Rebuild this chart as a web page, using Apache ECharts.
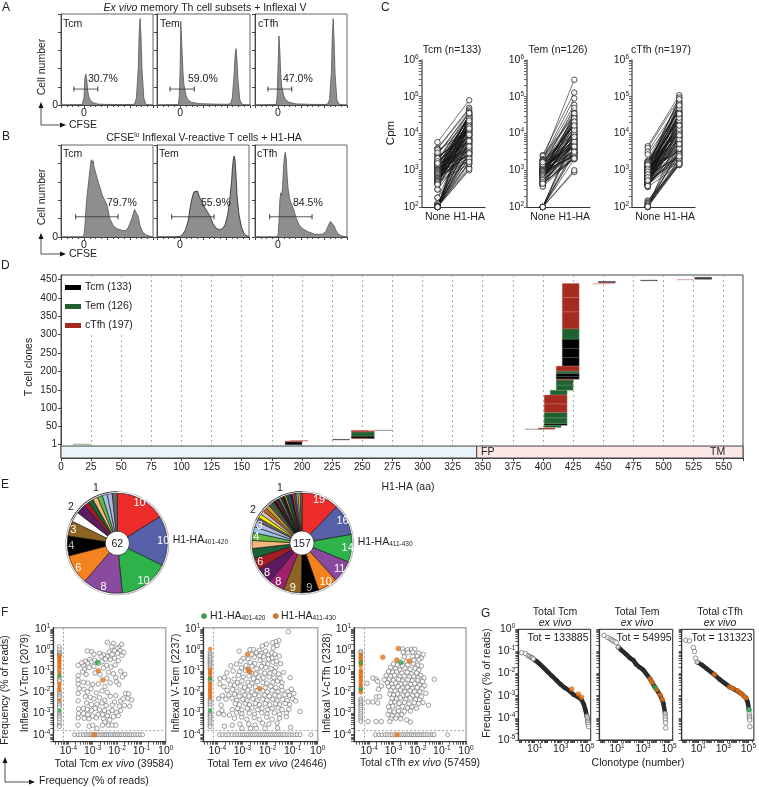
<!DOCTYPE html>
<html><head><meta charset="utf-8"><style>html,body{margin:0;padding:0;background:#fff}#c{width:759px;height:787px}</style>
<script src="https://cdn.jsdelivr.net/npm/echarts@6/dist/echarts.min.js"></script></head><body><div id="c"></div>
<script>
// ---------- Panel A / B histograms: [CFSE, % of max]
const aTcm=[[-25,0],[-2,.5],[0,8],[1,30],[2,34],[3,28],[4,16],[5,10],[7,5],[10,2.5],[15,1],[25,.6],[40,.5],[52,.5],[55,1],[57,8],[59,40],[60,80],[61,95],[62,75],[63,40],[65,8],[67,1],[70,.2],[75,0]];
const aTem=[[-25,0],[-2,.5],[-1,10],[0,45],[0.6,92],[1.5,70],[3,35],[4,22],[6,11],[8,6],[12,3],[20,1.5],[35,1],[50,.8],[54,1.5],[56,8],[58,35],[59,55],[60,62],[61,50],[62,28],[64,6],[66,1],[70,.2],[75,0]];
const aCfh=[[-25,0],[-2,.5],[-1,8],[0,40],[1,76],[2,60],[3,32],[4,21],[6,11],[8,6],[12,3],[20,1.2],[35,.7],[50,.5],[54,1],[56,6],[58,35],[59,75],[60,95],[61,70],[62,35],[64,6],[66,1],[70,.2],[75,0]];
const bTcm=[[-25,0],[-3,0],[0,2],[1,12],[2,28],[3,42],[5,60],[7,78],[8,84],[9,80],[10,83],[11,76],[12,78],[14,65],[17,55],[20,45],[25,35],[28,20],[32,12],[36,9],[42,7],[45,7],[48,10],[52,20],[55,30],[57,30],[59,22],[61,12],[64,5],[68,2],[75,0]];
const bTem=[[-25,0],[-5,0],[0,.5],[3,3],[6,8],[9,18],[11,32],[13,42],[15,49],[17,51],[19,50],[21,44],[24,38],[27,32],[30,27],[33,22],[36,14],[40,9],[43,8],[46,9],[49,13],[52,25],[54,40],[56,60],[57,75],[58,85],[59,88],[60,82],[61,65],[62,45],[64,25],[67,10],[70,3],[75,0]];
const bCfh=[[-25,0],[-3,0],[0,1],[1,15],[2,40],[3,48],[4,45],[5,55],[6,75],[7,88],[8,92],[9,85],[10,65],[11,52],[13,40],[15,35],[17,30],[20,20],[23,13],[27,9],[32,6],[40,3],[48,3],[52,6],[55,13],[57,17],[59,16],[61,12],[64,5],[68,1.5],[75,0]];
const histGates=[[-11,15,17.5],[-11,15,17.5],[-11,15,17.5],[-9,37,22],[-9,37,22],[-9,37,22]];
// ---------- Panel C cpm pairs
const cCats=['None','H1-HA'];
const noneTcm=[5800,4000,3800,3500,2800,2600,2400,2000,1900,1800,1700,1500,1500,1400,1300,1200,1200,1100,1000,1000,950,900,900,850,800,800,750,700,700,650,620,600,550,520,480,450,440,420,300,300,180,180,120,120,115,110,110,105,105,100,100,100,100,100,100,1600,1300,1150,1050,870,760,680,560,500,460,3000,2200,1250,1450,1350,1080,1020,980,930,880,830,780,730,670,640,610,580,540,510,490,470,430,410,125,112,108,102,101,100,100,2100,1750,1550];
const haTcm=[80000,50000,45000,12000,35000,40000,8000,30000,6000,25000,38000,20000,3500,15000,28000,9000,2500,18000,30000,5000,12000,22000,2000,7000,16000,33000,4500,10000,1800,25000,6000,14000,3000,20000,8000,1500,27000,11000,4000,17000,2500,9000,1600,3000,5500,1200,13000,2200,7000,1000,1100,3500,19000,1500,24000,13000,6500,21000,3800,9500,2800,17000,5200,12500,3200,23000,10500,31000,26000,4200,16500,7500,29000,11500,3400,19500,5800,8800,34000,2700,14500,6800,22500,3900,10200,1900,15500,4800,2100,6200,9200,1700,2900,4400,36000,13500];
const noneTem=[2600,2400,2000,2000,1900,1800,1800,1600,1500,1400,1300,1300,1200,1100,1100,1000,1000,950,900,900,850,800,800,750,700,700,650,600,600,550,500,480,450,420,400,380,370,360,100,100,100,100,100,100,100,1700,1250,1050,920,780,640,520,1500,1150,860,720,580,440,1350,1220,1080,1020,970,930,880,820,770,730,680,630,570,530,470,430,100,100,1450,1650];
const haTem=[130000,30000,290000,90000,60000,10000,40000,35000,25000,8000,50000,14000,5000,20000,7000,30000,3500,12000,28000,4500,9000,18000,2500,6000,15000,35000,3000,24000,8000,2100,11000,4000,2000,13000,5500,7500,3000,2200,900,1000,2000,2800,3800,6500,10000,16000,4200,22000,2400,5000,9500,3300,17000,6200,26000,3600,11500,2300,19000,5300,8700,3100,14500,6800,2600,10500,4700,21000,3400,7200,12500,2900,5900,2100,3200,8100,16500,4400];
const noneCfh=[4500,4000,3200,2700,1800,1700,1600,1500,1500,1400,1300,1200,1200,1100,1050,1000,1000,950,900,880,850,800,800,750,720,700,680,650,620,600,580,550,520,500,480,460,440,420,400,380,360,350,150,140,130,120,110,105,100,100,100,1750,1350,1150,970,830,690,560,470,1250,870,610,430,1650,1550,1450,1280,1180,1120,1020,930,860,780,740,660,630,590,540,510,490,450,410,390,370,125,115,108,102,1380,1070,910,770,640,530];
const haCfh=[110000,90000,60000,40000,75000,30000,50000,22000,12000,35000,95000,26000,8000,16000,45000,10000,5500,28000,70000,3500,20000,14000,7000,55000,9000,2500,32000,4500,18000,65000,12000,3000,25000,6000,2000,38000,11000,1700,4000,15000,8500,1400,1500,2600,1400,5000,3300,1600,1400,2000,9500,42000,24000,6500,13000,3800,19000,7800,2300,85000,17000,5000,2900,21000,48000,10500,3100,29000,7200,15500,4300,36000,2200,11500,5800,23000,3600,8000,1800,13500,6800,27000,2700,4800,1700,2100,1500,3900,58000,9000,34000,5200,16500,2400];
// ---------- Panel D epitope mapping: [first aa, last aa, clone from, clone to]
const segTcm=[[186,200,1,9],[225.5,239.6,14,15.5],[241,260,18,24.5],[401,420,54,59],[411,430,179,187],[411,430,187,195],[416,430,214.5,238],[416,430,238,263],[416,430,263,288],[446,460,441,444.5],[481,495,446.5,448],[526,540,450.5,453],[526,540,453,455.5]];
const segTem=[[241,260,24.5,36],[401,415,48,54],[401,420,59,74],[401,420,74,89],[406,420,136,149],[411,425,149,163],[411,425,163,177],[411,430,195,201],[416,430,288,317]];
const segCfh=[[186,200,9,11],[190,205,11,12],[241,255,39,40],[241,260,36,39],[241,255,17.5,18.5],[396,410,43,46.5],[401,420,89,112],[401,420,112,136],[411,425,177,179],[411,430,201,214.5],[416,430,316,362],[416,430,362,401],[416,430,401,439],[446,460,440,441]];
const segFaint=[[10,25,3,3.6,'#7fb08f'],[260,275,40.6,41.4,'#999999'],[385,400,43.6,44.4,'#999999'],[441,455,438.6,439.6,'#d9a09a'],[511,525,449.6,450.6,'#d9a09a']];
const domains=[[0,345,'#e8f4fa'],[345,566,'#fce8e6']];
// ---------- Panel E clonotype pies
const pie1Vals=[10,10,10,8,6,4,3,2,2,1,1,1,1,1,1,1];
const pie1Cols=['#ee2c2c','#5560a8','#2eb34a','#8a4a9e','#f58220','#000000','#8f6423','#ffffff','#5e1a60','#a71c24','#1a6237','#f4b97a','#63b944','#9cc4e8','#b3b7e0','#666666'];
const pie2Vals=[19,16,14,11,10,9,9,8,8,6,5,4,4,3,3,2,2,2,2,2,2,1,1,1,1,1,1,1,1,1,1,1,1,1,1,1,1];
const pie2Cols=['#ee2c2c','#5560a8','#2eb34a','#8a4a9e','#f58220','#000000','#8f6423','#a0206e','#5e1a60','#a71c24','#1a6237','#f4b97a','#63b944','#9cc4e8','#b3b7e0','#6a6a6a','#fff200','#c9c9c9','#c8602a','#b5a82a','#555555','#2a7a3a','#111111','#a71c24','#222255','#63b944','#5e1a60','#111111','#b5a82a','#1a6237','#5560a8','#222222','#c8602a','#8a4a9e','#9cc4e8','#fff200','#777777'];
// ---------- Panel F: log10(frequency)
const cloudTcm=[[-2.4,.37],[-2.15,.32],[-1.81,.27],[-2.22,.16],[-1.93,.14],[-2,.08],[-2.1,-.03],[-2.32,-.08],[-1.87,-.02],[-1.98,-.15],[-2.2,-.2],[-1.8,-.25],[-1.72,-.1],[-3.22,-.04],[-3.04,-.07],[-2.95,-.2],[-2.72,-.15],[-2.55,-.22],[-2.65,-.3],[-2.4,-.3],[-2.48,-.42],[-2.28,-.45],[-2.1,-.38],[-1.95,-.5],[-2.62,-.55],[-2.75,-.62],[-3.12,-.44],[-3.3,-.52],[-3.2,-.62],[-3.38,-.72],[-3.05,-.55],[-2.92,-.48],[-3.45,-.6],[-3.6,-.72],[-3.33,-.9],[-3.15,-.82],[-2.95,-.77],[-2.55,-.85],[-2.43,-.72],[-2.25,-.8],[-2.08,-.7],[-2.35,-1.05],[-2.15,-1.12],[-1.85,-1],[-1.68,-1.15],[-1.78,-1.27],[-2.05,-1.3],[-2.42,-1.33],[-2.7,-1.15],[-2.9,-1.08],[-3.27,-1.15],[-3.42,-1.03],[-3.6,-1.2],[-3.6,-1.41],[-3.6,-1.6],[-3.55,-1.82],[-3.6,-2.05],[-3.38,-1.52],[-3.2,-1.56],[-3,-1.62],[-2.77,-1.6],[-2.5,-1.72],[-2.28,-1.55],[-2.02,-1.5],[-1.92,-1.62],[-3.36,-1.85],[-3.22,-1.97],[-3.07,-1.83],[-2.85,-2.02],[-2.62,-1.93],[-2.4,-2],[-3.3,-2.2],[-3.1,-2.23],[-2.95,-2.3],[-2.72,-2.25],[-2.5,-2.37],[-2.28,-2.18],[-2.05,-2.15],[-1.85,-2.4],[-1.65,-2.05],[-1.53,-2.07],[-1.75,-2.3],[-1.55,-2.28],[-1.4,-2.35],[-1.48,-2.65],[-1.7,-2.62],[-1.9,-2.65],[-2.1,-2.45],[-2.2,-2.6],[-2.45,-2.62],[-2.62,-2.5],[-2.82,-2.55],[-3.05,-2.57],[-3.25,-2.5],[-3.6,-2.4],[-3.58,-2.78],[-3.38,-2.75],[-3.22,-2.8],[-3.05,-2.85],[-2.9,-2.75],[-2.72,-2.82],[-2.52,-2.85],[-2.35,-2.95],[-2.2,-2.85],[-2.02,-2.95],[-1.85,-2.85],[-1.95,-3.1],[-2.15,-3.15],[-2.4,-3.1],[-2.6,-3.05],[-2.78,-3.05],[-3,-3.12],[-3.2,-3.05],[-3.38,-3],[-3.58,-3],[-3.6,-3.2],[-3.35,-3.22],[-3.15,-3.25],[-2.85,-3.2],[-2.55,-3.25],[-2.3,-3.3],[-2.5,-3.4],[-3.6,-3.55],[-3.15,-3.6],[-3,-3.55],[-2.82,-3.7],[-2.6,-3.55],[-2.35,-3.55],[-2.2,-3.55],[-2.05,-3.55]];
const cloudTem=[[-1.17,.87],[-1.55,.45],[-1.68,.4],[-1.8,.35],[-1.62,.22],[-1.77,.1],[-2.05,.28],[-2.21,.2],[-2.57,.03],[-2.7,.02],[-3.13,-.05],[-2.44,-.12],[-2.33,-.01],[-2.26,-.15],[-2.08,-.05],[-1.97,-.23],[-1.83,-.13],[-1.71,-.2],[-1.53,-.28],[-1.82,-.38],[-1.96,-.43],[-2.17,-.31],[-2.31,-.26],[-2.53,-.33],[-2.63,-.21],[-2.78,-.42],[-2.97,-.39],[-3.06,-.52],[-2.69,-.58],[-2.51,-.63],[-2.3,-.49],[-2.13,-.62],[-1.99,-.66],[-1.78,-.57],[-1.64,-.52],[-1.48,-.64],[-1.67,-.81],[-1.86,-.88],[-2.07,-.82],[-2.24,-.77],[-2.43,-.87],[-2.62,-.76],[-2.86,-.73],[-3.04,-.83],[-3.24,-.66],[-3.46,-.74],[-3.12,-1.02],[-2.88,-.97],[-2.64,-1.07],[-2.47,-1.12],[-2.26,-1.03],[-2.11,-1.09],[-1.91,-1.11],[-1.71,-1.03],[-1.56,-1.13],[-1.36,-1.06],[-1.1,-1.3],[-1.51,-1.33],[-1.74,-1.3],[-1.94,-1.27],[-2.17,-1.31],[-2.36,-1.28],[-2.56,-1.34],[-2.74,-1.22],[-2.97,-1.27],[-3.16,-1.19],[-3.37,-.99],[-3.62,-1.07],[-3.72,-1.3],[-3.9,-1.35],[-3.56,-1.41],[-3.33,-1.37],[-3.21,-1.53],[-3.02,-1.46],[-2.78,-1.52],[-2.62,-1.57],[-2.41,-1.49],[-2.18,-1.53],[-2.03,-1.57],[-1.79,-1.52],[-1.61,-1.47],[-1.42,-1.54],[-1.44,-1.73],[-1.67,-1.77],[-1.87,-1.71],[-2.09,-1.78],[-2.48,-1.74],[-2.72,-1.69],[-2.91,-1.76],[-3.08,-1.71],[-3.32,-1.66],[-3.48,-1.63],[-3.74,-1.73],[-3.9,-1.6],[-3.61,-1.9],[-3.39,-1.87],[-3.22,-1.94],[-2.99,-1.97],[-2.78,-1.89],[-2.62,-1.98],[-2.41,-1.91],[-2.18,-1.93],[-2.02,-1.98],[-1.81,-1.92],[-1.58,-1.97],[-1.42,-1.9],[-1.19,-1.96],[-1.05,-1.85],[-.95,-2.05],[-1.13,-2.14],[-1.31,-2.11],[-1.54,-2.17],[-1.71,-2.13],[-1.93,-2.18],[-2.11,-2.12],[-2.34,-2.16],[-2.52,-2.11],[-2.74,-2.17],[-2.91,-2.12],[-3.13,-2.18],[-3.31,-2.08],[-3.54,-2.12],[-3.8,-2.15],[-3.66,-2.32],[-3.41,-2.28],[-3.22,-2.37],[-2.98,-2.33],[-2.81,-2.39],[-2.58,-2.31],[-2.42,-2.4],[-2.19,-2.32],[-2.02,-2.37],[-1.79,-2.32],[-1.62,-2.39],[-1.39,-2.33],[-1.22,-2.38],[-1,-2.3],[-.88,-2.4],[-1.12,-2.57],[-1.29,-2.52],[-1.52,-2.58],[-1.68,-2.53],[-1.91,-2.59],[-2.09,-2.53],[-2.32,-2.58],[-2.49,-2.52],[-2.72,-2.59],[-2.89,-2.52],[-3.12,-2.58],[-3.29,-2.53],[-3.85,-2.6],[-3.95,-2.3],[-3.82,-2.85],[-3.95,-3],[-3.41,-2.81],[-3.19,-2.76],[-3.02,-2.82],[-2.79,-2.76],[-2.62,-2.73],[-2.39,-2.81],[-2.22,-2.75],[-1.99,-2.81],[-1.82,-2.75],[-1.58,-2.73],[-1.42,-2.81],[-1.15,-2.8],[-.71,-2.9],[-1.25,-2.98],[-1.52,-3.03],[-1.73,-2.97],[-2.02,-3.02],[-2.23,-2.97],[-2.52,-3.03],[-2.73,-2.98],[-3.02,-3.02],[-3.23,-2.97],[-3.52,-3.07],[-3.75,-3.05],[-3.32,-3.22],[-3.03,-3.17],[-2.82,-3.27],[-2.53,-3.19],[-2.32,-3.28],[-2.03,-3.17],[-1.82,-3.27],[-1.53,-3.22],[-1.25,-3.15],[-1.62,-3.45],[-1.95,-3.5],[-2.2,-3.45],[-2.5,-3.55],[-2.75,-3.5],[-3.1,-3.5],[-3.4,-3.55],[-3.72,-3.6],[-1.08,-3.65],[-1.6,-3.68],[-2.1,-3.7],[-2.45,-3.7],[-2.68,-3.7],[-3.02,-3.7]];
const cloudCfh=[[-2.62,.06],[-2.42,.02],[-2.25,.05],[-2.12,.04],[-2.6,-.1],[-2.4,-.12],[-2.2,-.1],[-1.95,-.15],[-1.77,-.2],[-2.02,-.28],[-2.2,-.3],[-2.55,-.32],[-1.85,-.38],[-1.95,-.45],[-2.15,-.48],[-2.45,-.55],[-2.85,-.7],[-3,-.65],[-2.63,-.73],[-2.41,-.69],[-2.18,-.65],[-1.98,-.71],[-1.85,-.75],[-3.12,-.82],[-2.9,-.88],[-2.74,-.93],[-2.52,-.85],[-2.31,-.91],[-2.1,-.86],[-1.95,-.95],[-3.2,-1],[-3.03,-1.05],[-2.87,-1.03],[-2.65,-1.09],[-2.43,-1.05],[-2.26,-1.12],[-2.04,-1.08],[-1.88,-1.2],[-3.3,-1.2],[-3.12,-1.24],[-2.95,-1.19],[-2.73,-1.25],[-2.56,-1.22],[-2.34,-1.27],[-2.16,-1.24],[-1.98,-1.3],[-1.74,-1.32],[-1.31,-1.38],[-3.72,-1.38],[-3.85,-1.32],[-3.65,-1.48],[-3.38,-1.4],[-3.17,-1.37],[-3.01,-1.43],[-2.79,-1.38],[-2.62,-1.45],[-2.39,-1.4],[-2.22,-1.44],[-1.99,-1.42],[-1.8,-1.48],[-4.09,-1.57],[-3.25,-1.55],[-3.07,-1.6],[-2.91,-1.56],[-2.69,-1.61],[-2.52,-1.57],[-2.29,-1.62],[-2.12,-1.58],[-1.92,-1.65],[-1.72,-1.68],[-3.5,-1.7],[-3.2,-1.72],[-3.02,-1.77],[-2.81,-1.72],[-2.63,-1.78],[-2.41,-1.75],[-2.23,-1.81],[-2.01,-1.77],[-1.82,-1.82],[-3.62,-1.85],[-3.1,-1.9],[-2.93,-1.94],[-2.71,-1.89],[-2.53,-1.96],[-2.31,-1.92],[-2.13,-1.97],[-1.91,-1.96],[-1.66,-2.04],[-3.7,-2.22],[-3.58,-2.2],[-3.15,-2.08],[-2.99,-2.12],[-2.83,-2.07],[-2.61,-2.14],[-2.43,-2.09],[-2.21,-2.15],[-2.03,-2.12],[-1.85,-2.2],[-3.05,-2.28],[-2.87,-2.31],[-2.71,-2.26],[-2.49,-2.32],[-2.31,-2.27],[-2.09,-2.34],[-1.92,-2.35],[-1.78,-2.48],[-4.05,-2.45],[-3.85,-2.45],[-3.65,-2.5],[-3.1,-2.48],[-2.94,-2.45],[-2.76,-2.51],[-2.54,-2.47],[-2.36,-2.53],[-2.14,-2.48],[-1.95,-2.52],[-1.55,-2.6],[-3.2,-2.68],[-3.03,-2.65],[-2.81,-2.72],[-2.63,-2.67],[-2.41,-2.73],[-2.23,-2.69],[-2.05,-2.75],[-3.15,-2.88],[-2.97,-2.92],[-2.79,-2.87],[-2.55,-2.9],[-2.3,-2.88],[-3.22,-3.05],[-3.05,-3.1],[-2.85,-3.08],[-2.65,-3.05],[-3.1,-3.25],[-2.9,-3.22],[-4.05,-3.38],[-3.72,-3.38],[-3.5,-3.38],[-3.15,-3.38],[-2.7,-3.25],[-2.45,-3.3],[-2.3,-3.4]];
const colTcm=[.16,.02,-.1,-.17,-.24,-.92,-1.3,-1.4,-1.48,-2,-2.1,-2.18,-2.26,-2.46,-2.55,-2.62,-2.72,-2.95,-3.05,-3.12,-3.2,-3.3,-3.42,-3.55,-3.62];
const colTem=[-.12,-.2,-.27,-.34,-.42,-.5,-.57,-.64,-.7,-.78,-.85,-1.4,-1.48,-2.35,-2.42,-2.5,-2.6,-2.7,-2.95,-3.03,-3.1,-3.18,-3.27,-3.36,-3.45,-3.55,-3.63];
const colCfh=[-.05,-.12,-1.78,-2.3,-2.38,-2.46,-2.55,-2.62,-2.7,-2.8,-2.9,-3,-3.1,-3.2,-3.3,-3.38];
const colOrTcm=[-.25,-.32,-.4,-.48,-.56,-.65,-.74,-.83,-1.02,-1.13,-1.58,-1.68,-1.8,-1.9,-2.36];
const colOrTem=[.05,-.9,-1,-1.08,-1.16,-1.3,-1.55,-1.65,-1.75,-1.85,-1.95,-2.05,-2.15,-2.25];
const colOrCfh=[-.2,-.28,-.35,-.43,-.5,-.58,-.66,-.75,-.95,-1.03,-1.12,-1.2,-1.3,-1.4,-1.5,-1.6,-1.7,-1.9,-2];
const colGrTcm=[-1.22,-2.86];
const colGrTem=[-1.35,-2.86];
const colGrCfh=[-.6,-1.85];
const rowTcm=[-3.75,-3.6,-3.5,-3.38,-3.28,-3.2,-3.12,-3.05,-2.98,-2.85,-2.78,-2.7,-2.62,-2.55,-2.48,-2.42,-2.35,-2.28,-2.2,-2.12,-2.05,-1.98,-1.9,-1.82,-1.74,-1.66,-1.58,-1.5,-1.42,-1.33,-1.24,-1.15,-1.05,-.95];
const rowTem=[-3.92,-3.8,-3.66,-3.55,-3.42,-3.3,-3.2,-3.1,-3,-2.92,-2.84,-2.76,-2.68,-2.6,-2.52,-2.44,-2.36,-2.28,-2.2,-2.12,-2.04,-1.96,-1.88,-1.8,-1.72,-1.64,-1.56,-1.48,-1.4,-1.32,-1.22,-1.12,-1.02,-.92,-.82,-.7,-.27];
const rowCfh=[-3.75,-3.6,-3.48,-3.35,-3.25,-3.15,-3.05,-2.95,-2.76,-2.66,-2.58,-2.5,-2.42,-2.34,-2.26,-2.18,-2.1,-2.02,-1.94,-1.86,-1.78,-1.7,-1.6,-1.5,-1.4,-1.32,-.76];
const orTcm=[[-2.77,-.97],[-2.59,-1.41],[-2.93,-4]];
const orTem=[[-2.8,-.2],[-2.78,-.91],[-2.71,-1.02],[-2.31,-1.81]];
const orCfh=[[-2.8,.08],[-3.44,-.34],[-2.86,-.47],[-2.34,-.51],[-2.86,-4]];
const grTcm=[[-2.81,-.58]];
const grTem=[];
const grCfh=[[-2.69,-.58]];
const fBelowLimit=[-4.37,-4.29,-4.35];
const fGateX=[-4.2,-4.16,-4.2];
const fGateY=-3.81;
const fRowY=-4;
// ---------- Panel G rank-frequency
const gBulkTcm=[[10,.04],[15,.035],[20,.03],[30,.024],[50,.018],[100,.012],[200,.008],[500,.0048],[1000,.0032],[2000,.0023],[5000,.0016],[10000,.0011],[20000,.0009],[40000,.00065],[60000,.0004],[80000,.00022],[100000,.00012]];
const gOpenTcm=[[1,.087],[2,.08],[3,.065],[4,.06],[5,.055],[6,.052],[7,.05],[8,.045],[100000,.00012],[110000,.0001],[115000,.00008],[120000,.00007],[125000,.00006],[130000,.00005],[133885,.00004]];
const gBulkTem=[[12,.16],[20,.12],[50,.075],[100,.05],[180,.04],[300,.026],[500,.02],[1000,.015],[3500,.0057],[8300,.0024],[20000,.0011],[36000,.00047],[50000,.00016]];
const gOpenTem=[[1,.53],[2,.42],[3,.37],[4,.33],[5,.3],[7,.28],[9,.25],[12,.16],[50000,.00016],[51000,.00012],[52000,.0001],[53000,.00008],[54000,.00006],[54995,.000035]];
const gBulkCfh=[[8,.033],[21,.024],[50,.016],[190,.009],[500,.0055],[3200,.0025],[6000,.0021],[25000,.0013],[63000,.0008],[90000,.0005],[112000,.00023]];
const gOpenCfh=[[1,.32],[2,.3],[4,.15],[5,.1],[6,.05],[8,.033],[112000,.00023],[116000,.00016],[120000,.00012],[124000,.0001],[128000,.00008],[131323,.00004]];
const gOrTcm=[[7000,.002],[23000,.0012],[40000,.00085]];
const gOrTem=[[3500,.0057],[5000,.004],[11000,.0019],[20000,.0011],[30000,.0007]];
const gOrCfh=[[190,.009],[3200,.0025],[6000,.0021],[14000,.0017],[25000,.0013],[40000,.001],[63000,.0008]];
const gGrTem=[[8300,.0024]];
const gGrCfh=[[112000,.00023]];
const logMinorDigits=[1,2,3,4,5,6,7,8,9];
const logDecades=[-5,-4,-3,-2,-1,0,1,2,3,4,5,6];

// ---------- build
const FONT='"Liberation Sans",Arial,sans-serif';
const grid=[],xAxis=[],yAxis=[],series=[],graphic=[];
const DARK='#333';
function G(l,t,r,b,gridOpt,xa,ya){const i=grid.length;
 grid.push(Object.assign({left:l,top:t,width:r-l,height:b-t,show:false},gridOpt||{}));
 xAxis.push(Object.assign({gridIndex:i,splitLine:{show:false}},xa));
 yAxis.push(Object.assign({gridIndex:i,splitLine:{show:false}},ya));return i;}
const rich={b:{fontSize:10.5,color:'#222',fontFamily:FONT},s:{fontSize:6.5,color:'#222',fontFamily:FONT,padding:[0,0,6,0]}};
function powLabel(v,odd){const l=Math.log10(v),e=Math.round(l);if(Math.abs(l-e)>1e-6)return '';if(odd&&(e%2===0))return '';return `{b|10}{s|${e}}`;}
const minorVals=[];logDecades.forEach(e=>logMinorDigits.forEach(d=>minorVals.push(d*10**e)));
function logAxis(min,max,opts){return Object.assign({type:'log',logBase:10,min,max,splitNumber:10,
 axisLine:{show:true,onZero:false,lineStyle:{color:DARK,width:1.2}},axisTick:{show:true,length:3,customValues:minorVals.filter(v=>v>=min&&v<=max),lineStyle:{color:DARK,width:.8}},
 axisLabel:{show:true,margin:3,hideOverlap:false,showMinLabel:true,showMaxLabel:true,formatter:v=>powLabel(v),rich}},opts||{});}

// A / B
const hists=[aTcm,aTem,aCfh,bTcm,bTem,bCfh];
const hx=[[61,153],[157,250],[255,347],[61,153],[157,249],[255,347]];
const hy=[[14,105],[14,105],[14,105],[145,237],[145,237],[145,237]];
hists.forEach((d,i)=>{const k=G(hx[i][0],hy[i][0],hx[i][1],hy[i][1],{show:true,borderColor:'#666',borderWidth:1},
 {type:'value',min:-25,max:75,interval:25,minorTick:{show:true,splitNumber:4,length:2,lineStyle:{color:'#444'}},axisLine:{onZero:false,lineStyle:{color:'#444'}},axisTick:{length:3,lineStyle:{color:'#444'}},axisLabel:{margin:3,fontSize:10.5,color:'#222',fontFamily:FONT,formatter:v=>v===0?'0':''}},
 {type:'value',min:0,max:100,interval:20,axisLine:{show:true,onZero:false,lineStyle:{color:'#444'}},axisTick:{show:true,length:3,lineStyle:{color:'#444'}},axisLabel:{show:i===0||i===3,margin:3,fontSize:10.5,color:'#222',fontFamily:FONT,formatter:v=>v===0?'0':''}});
 series.push({type:'line',xAxisIndex:k,yAxisIndex:k,data:d,symbol:'none',lineStyle:{color:i===4?'#222':'#555',width:.8},areaStyle:{color:'#8e8e8e',opacity:1},silent:true});
 const g=histGates[i];
 series.push({type:'line',xAxisIndex:k,yAxisIndex:k,data:[[g[0],g[2]],[g[1],g[2]]],symbol:'rect',symbolSize:[1,5],itemStyle:{color:'#333'},lineStyle:{color:'#333',width:.8},silent:true,z:4});
});
// C
const cSets=[[noneTcm,haTcm,421.7,485],[noneTem,haTem,527,590],[noneCfh,haCfh,632,695]];
cSets.forEach(s=>{const k=G(s[2],60,s[3],207,null,
 {type:'category',data:cCats,axisLine:{lineStyle:{color:'#333',width:1.2}},axisTick:{show:false},axisLabel:{margin:5,interval:0,fontSize:10.5,color:'#222',fontFamily:FONT}},
 logAxis(100,1e6,{axisLine:{show:true,onZero:false,lineStyle:{color:'#666',width:1.5}},axisTick:{show:true,length:3,customValues:minorVals.filter(v=>v>=100&&v<=1e6),lineStyle:{color:'#666',width:1}}}));
 s[0].forEach((n,i)=>series.push({type:'line',xAxisIndex:k,yAxisIndex:k,data:[[0,n],[1,s[1][i]]],symbol:'none',lineStyle:{color:'#111',width:.6},silent:true}));
 const style={color:'#fff',borderColor:'#111',borderWidth:.9};
 series.push({type:'scatter',xAxisIndex:k,yAxisIndex:k,z:5,symbolSize:5.5,itemStyle:style,data:s[0].map(v=>[0,v]),silent:true});
 series.push({type:'scatter',xAxisIndex:k,yAxisIndex:k,z:5,symbolSize:5.5,itemStyle:style,data:s[1].map(v=>[1,v]),silent:true});
});
// D
const kD=G(61,275,743,458,{show:true,borderColor:'#444',borderWidth:1},
 {type:'value',min:0,max:566,interval:25,axisLine:{onZero:false,lineStyle:{color:'#444'}},axisTick:{length:3,lineStyle:{color:'#444'}},axisLabel:{margin:4,fontSize:10,color:'#222',fontFamily:FONT,formatter:v=>v%25===0?v:''},splitLine:{show:true,lineStyle:{color:'#aaa',type:[2,3],width:1}}},
 {type:'value',min:-35,max:462,axisLine:{show:true,onZero:false,lineStyle:{color:'#444'}},axisTick:{show:true,length:3,customValues:[1,50,100,150,200,250,300,350,400,450],lineStyle:{color:'#444'}},axisLabel:{margin:4,fontSize:10,color:'#222',fontFamily:FONT,customValues:[1,50,100,150,200,250,300,350,400,450]}});
const rectItem=stroke=>(p,api)=>{const a=api.coord([api.value(0),api.value(3)]),b=api.coord([api.value(1),api.value(2)]);
 return {type:'rect',shape:{x:a[0],y:a[1],width:b[0]-a[0],height:b[1]-a[1]},style:{fill:api.style().fill,stroke,lineWidth:stroke?.4:0}};};
[['Tcm (133)',segTcm,'#000000','#555'],['Tem (126)',segTem,'#1f6130','#5f9a70'],['cTfh (197)',segCfh,'#a52a20','#c9736b']].forEach(s=>
 series.push({type:'custom',name:s[0],xAxisIndex:kD,yAxisIndex:kD,encode:{x:[0,1],y:[2,3]},data:s[1],itemStyle:{color:s[2]},renderItem:rectItem(s[3]),z:3,silent:true,clip:true}));
series.push({type:'custom',xAxisIndex:kD,yAxisIndex:kD,encode:{x:[0,1],y:[2,3]},data:segFaint,z:3,silent:true,renderItem:(p,api)=>{const a=api.coord([api.value(0),api.value(3)]),b=api.coord([api.value(1),api.value(2)]);
 return {type:'rect',shape:{x:a[0],y:a[1],width:b[0]-a[0],height:Math.max(1,b[1]-a[1])},style:{fill:segFaint[p.dataIndex][4]}};}});
series.push({type:'custom',xAxisIndex:kD,yAxisIndex:kD,encode:{x:[0,1]},data:domains,z:4,silent:true,renderItem:(p,api)=>{const a=api.coord([api.value(0),-2.5]),b=api.coord([api.value(1),-35]);
 return {type:'rect',shape:{x:a[0],y:a[1],width:b[0]-a[0],height:b[1]-a[1]},style:{fill:domains[p.dataIndex][2],stroke:'#444',lineWidth:1}};}});
const legend=[{data:['Tcm (133)','Tem (126)','cTfh (197)'],orient:'vertical',left:63,top:280,icon:'rect',itemWidth:16,itemHeight:5,itemGap:8,padding:[2,3,4,2],backgroundColor:'#fff',textStyle:{fontSize:10.5,color:'#222',fontFamily:FONT,padding:[0,0,0,-1]},selectedMode:false,z:20}];
// E
function pies(vals,cols,cx,cy,nOne,nTwo,maxLabel){
 const c=[cx,cy];
 series.push({type:'pie',center:c,radius:[12,50],startAngle:90,silent:true,label:{show:false},labelLine:{show:false},
  data:vals.map((v,i)=>({value:v,itemStyle:{color:cols[i],borderColor:'#111',borderWidth:.6}}))});
 series.push({type:'pie',center:c,radius:[36,50],startAngle:90,silent:true,z:4,labelLine:{show:false},
  data:vals.map((v,i)=>({value:v,itemStyle:{color:'rgba(0,0,0,0)'},label:{show:i<=maxLabel,position:'inside',formatter:String(v),fontSize:11,fontFamily:FONT,color:cols[i]==='#000000'?'#bbb':cols[i]==='#f4b97a'?'#333':'#fff'}}))});
 const n=vals.length;
 series.push({type:'pie',center:c,radius:[51.2,52],startAngle:90,silent:true,label:{show:false},labelLine:{show:false},
  data:vals.map((v,i)=>({value:v,itemStyle:{color:i>=n-nOne-nTwo?'#222':'#aaa',borderWidth:0}}))});
}
pies(pie1Vals,pie1Cols,117.3,543.3,7,2,6);
pies(pie2Vals,pie2Cols,302,543,16,6,14);
// F
const fSets=[[cloudTcm,colTcm,rowTcm,colOrTcm,colGrTcm,orTcm,grTcm,53.3,165.7,-4.62],[cloudTem,colTem,rowTem,colOrTem,colGrTem,orTem,grTem,203.3,317.7,-4.56],[cloudCfh,colCfh,rowCfh,colOrCfh,colGrCfh,orCfh,grCfh,354,466,-4.63]];
const p10=p=>[10**p[0],10**p[1]];
fSets.forEach((s,j)=>{const k=G(s[7],627.7,s[8],741.7,{show:true,borderColor:'#aaa',borderWidth:1.5},
 logAxis(10**s[9],1),logAxis(10**-4.33,10**1.06));
 const bl=fBelowLimit[j],gx=fGateX[j];
 [[[gx,-4.33],[gx,1.06]],[[s[9],fGateY],[0,fGateY]]].forEach(l=>series.push({type:'line',xAxisIndex:k,yAxisIndex:k,data:l.map(p10),symbol:'none',silent:true,z:1,lineStyle:{color:'#888',width:.8,type:[2,2]}}));
 const open={color:'#fff',borderColor:'#555',borderWidth:.7};
 const sc=(data,st,sz,z)=>series.push({type:'scatter',xAxisIndex:k,yAxisIndex:k,data,symbolSize:sz,itemStyle:st,z,silent:true});
 sc(s[0].map(p10),open,4.5,2);
 sc(s[1].map(y=>[10**bl,10**y]),open,4,2);
 sc(s[2].map(x=>[10**x,10**fRowY]),open,4,2);
 const or={color:'#e8751a',borderColor:'#b85a10',borderWidth:.3},gr={color:'#2eaa4a',borderColor:'#1e7a33',borderWidth:.3};
 sc(s[3].map(y=>[10**bl,10**y]),or,4,3);
 sc(s[4].map(y=>[10**bl,10**y]),gr,4,3);
 sc(s[5].map(p10),or,5,3);
 if(s[6].length)sc(s[6].map(p10),gr,5,3);
});
// G
const gSets=[[gBulkTcm,gOpenTcm,gOrTcm,[],518.3,590.7,-.26,5.3],[gBulkTem,gOpenTem,gOrTem,gGrTem,599.3,672.7,-.36,5.28],[gBulkCfh,gOpenCfh,gOrCfh,gGrCfh,681.7,756.7,-.33,5.44]];
gSets.forEach((s,j)=>{const k=G(s[4],629.3,s[5],740,{show:true,borderColor:'#222',borderWidth:1},
 logAxis(10**s[6],10**s[7],{axisLabel:{margin:3,hideOverlap:false,formatter:v=>powLabel(v,true),rich}}),
 logAxis(1e-5,1,{axisLabel:{show:j===0,margin:3,formatter:v=>powLabel(v),rich}}));
 series.push({type:'line',xAxisIndex:k,yAxisIndex:k,data:s[0],symbol:'circle',symbolSize:4.5,itemStyle:{color:'#2a2a2a'},lineStyle:{color:'#2a2a2a',width:4.5},z:2,silent:true});
 series.push({type:'scatter',xAxisIndex:k,yAxisIndex:k,data:s[1],symbolSize:4.5,itemStyle:{color:'#fff',borderColor:'#555',borderWidth:.8},z:3,silent:true});
 series.push({type:'scatter',xAxisIndex:k,yAxisIndex:k,data:s[2],symbolSize:5,itemStyle:{color:'#e8751a',borderColor:'#b85a10',borderWidth:.3},z:4,silent:true});
 if(s[3].length)series.push({type:'scatter',xAxisIndex:k,yAxisIndex:k,data:s[3],symbolSize:5,itemStyle:{color:'#2eaa4a',borderColor:'#1e7a33',borderWidth:.3},z:4,silent:true});
});
// text
const txtRich={i:{fontStyle:'italic',fontSize:10.5,fontFamily:FONT,color:'#222'},n:{fontSize:10.5,fontFamily:FONT,color:'#222'},sub:{fontSize:6.5,fontFamily:FONT,color:'#222',padding:[5,0,0,0]},sup:{fontSize:6.5,fontFamily:FONT,color:'#222',padding:[0,0,5,0]}};
function T(text,x,y,o){o=o||{};graphic.push({type:'text',x,y,rotation:o.rot?Math.PI/2:0,z:30,silent:true,style:{text,fill:o.c||'#222',font:`${o.i?'italic ':''}${o.s||10.5}px ${FONT}`,textAlign:o.a||'center',textVerticalAlign:'middle',rich:txtRich}});}
[['A',2,8],['B',2,137],['C',381,8],['D',1,266],['E',1,485],['F',1,613],['G',481,614]].forEach(p=>T(p[0],p[1],p[2],{a:'left',s:12}));
T('{i|Ex vivo}{n| memory Th cell subsets + Inflexal V}',205,8);
T('{n|CFSE}{sup|lo}{n| Inflexal V-reactive T cells + H1-HA}',204,138);
[['Tcm',63,24],['Tem',160,24],['cTfh',258,24],['30.7%',88,79],['59.0%',188,79],['47.0%',283,79],
 ['Tcm',63,154],['Tem',159,154],['cTfh',257,154],['79.7%',107,203],['55.9%',201,203],['84.5%',293,203],
 ['CFSE',69,125],['CFSE',69,254]].forEach(p=>T(p[0],p[1],p[2],{a:'left'}));
T('Cell number',42,67,{rot:1});T('Cell number',42,197,{rot:1});
T('Tcm (n=133)',452,50);T('Tem (n=126)',558,50);T('cTfh (n=197)',661,50);T('Cpm',391,133,{rot:1,s:11.5});
T('T cell clones',29,367,{rot:1});T('H1-HA (aa)',408,487);T('FP',481,452,{a:'left'});T('TM',710,452,{a:'left'});
T('1',96,488);T('2',71,507);T('1',280,488);T('2',253,510);T('62',117.3,544);T('157',302,544);
T('{n|H1-HA}{sub|401-420}',172.7,540,{a:'left'});T('{n|H1-HA}{sub|411-430}',357.7,542,{a:'left'});
T('Inflexal V-Tcm (2079)',25,683,{rot:1});T('Inflexal V-Tem (2237)',176,683,{rot:1});T('Inflexal V-cTfh (2328)',327,683,{rot:1});
T('{n|Total Tcm }{i|ex vivo}{n| (39584)}',114,764);T('{n|Total Tem }{i|ex vivo}{n| (24646)}',267,764);T('{n|Total cTfh }{i|ex vivo}{n| (57459)}',420,763);
T('Frequency (% of reads)',5,690,{rot:1});T('Frequency (% of reads)',39,781,{a:'left'});
T('{n|H1-HA}{sub|401-420}',210,616,{a:'left'});T('{n|H1-HA}{sub|411-430}',281,616,{a:'left'});
T('Total Tcm',555,612);T('ex vivo',555,623,{i:1});T('Total Tem',637,612);T('ex vivo',637,623,{i:1});T('Total cTfh',720,612);T('ex vivo',720,623,{i:1});
T('Tot = 133885',558,638);T('Tot = 54995',644,638);T('Tot = 131323',722,638);
T('Frequency (% of reads)',487,683,{rot:1});T('Clonotype (number)',638,763);
[[204,616,'#2eaa4a'],[275.7,616,'#e8751a']].forEach(p=>graphic.push({type:'circle',shape:{cx:p[0],cy:p[1],r:2.6},style:{fill:p[2],stroke:'#333',lineWidth:.3},z:30,silent:true}));
function arrow(x0,y0,hx,vy){
 graphic.push({type:'polyline',shape:{points:[[x0,vy+5],[x0,y0],[hx-5,y0]]},style:{stroke:'#222',lineWidth:.8,fill:null},z:30,silent:true});
 graphic.push({type:'polygon',shape:{points:[[x0,vy],[x0-2.5,vy+6],[x0+2.5,vy+6]]},style:{fill:'#111'},z:30,silent:true});
 graphic.push({type:'polygon',shape:{points:[[hx,y0],[hx-6,y0-2.5],[hx-6,y0+2.5]]},style:{fill:'#111'},z:30,silent:true});
}
arrow(41,125,66,102);arrow(41,254,66,233);arrow(5,782,35,757);

const chart=echarts.init(document.getElementById('c'),null,{renderer:'canvas'});
chart.setOption({animation:false,backgroundColor:'#fff',textStyle:{fontFamily:FONT},grid,xAxis,yAxis,series,legend,graphic});
</script></body></html>
